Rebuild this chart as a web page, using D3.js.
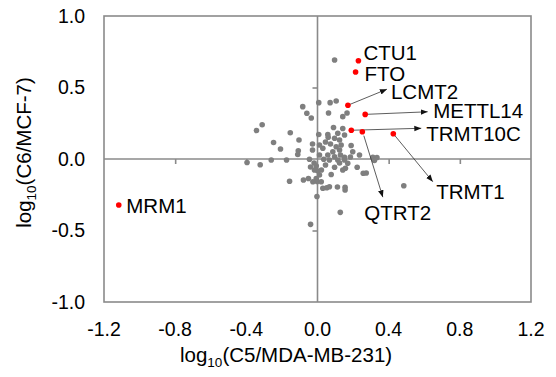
<!DOCTYPE html>
<html>
<head>
<meta charset="utf-8">
<script src="https://cdn.jsdelivr.net/npm/d3@7"></script>
<style>
  html, body { margin: 0; padding: 0; background: #fff; }
  svg { display: block; }
  text { font-family: "Liberation Sans", Arial, sans-serif; fill: #000; }
</style>
</head>
<body>
<svg id="chart" width="556" height="377"></svg>
<script>
// log10 ratio of each gene: x = C5 / MDA-MB-231, y = C6 / MCF-7
const grayX = [
  0.096, 0.007, 0.071, 0.105, -0.083, -0.060, -0.035, 0.062, 0.142, 0.166,
  -0.311, -0.343, -0.153, 0.007, 0.090, 0.142, 0.058, 0.060, 0.114, 0.096,
  0.124, -0.104, -0.247, -0.028, -0.208, -0.108, -0.111, 0.030, 0.105, 0.133,
  0.189, 0.198, 0.086, 0.058, 0.096, 0.129, 0.152, 0.011, 0.236, -0.396,
  -0.322, -0.260, -0.174, -0.045, -0.019, 0.035, 0.067, 0.114, 0.152, 0.170,
  0.311, 0.334, 0.320, 0.223, 0.157, 0.096, -0.007, 0.002, -0.017, 0.142,
  0.274, 0.257, 0.077, -0.007, -0.051, -0.079, -0.157, -0.002, 0.021, 0.030,
  0.052, 0.067, 0.112, 0.155, 0.155, -0.003, 0.128, -0.039, 0.485, -0.026,
  -0.028, 0.011, 0.045, 0.073, 0.152, 0.124, 0.045, 0.022, 0.124, 0.185,
  -0.039, 0.011
];
const grayY = [
  0.692, 0.394, 0.394, 0.406, 0.366, 0.320, 0.287, 0.322, 0.296, 0.322,
  0.240, 0.199, 0.184, 0.171, 0.220, 0.213, 0.171, 0.152, 0.180, 0.145,
  0.133, 0.133, 0.115, 0.105, 0.070, 0.058, 0.031, 0.075, 0.086, 0.098,
  0.094, 0.051, 0.051, 0.028, 0.016, 0.028, 0.012, 0.028, 0.028, -0.024,
  -0.040, -0.007, -0.007, -0.002, -0.028, -0.002, -0.007, -0.007, -0.007, -0.030,
  0.012, 0.010, -0.010, -0.058, -0.065, -0.058, -0.049, -0.084, -0.077, -0.077,
  -0.098, -0.100, -0.108, -0.136, -0.136, -0.147, -0.156, -0.157, -0.159, -0.205,
  -0.201, -0.194, -0.196, -0.198, -0.217, -0.262, -0.373, -0.457, -0.187, -0.159,
  0.063, 0.098, 0.119, 0.105, 0.168, 0.063, -0.042, -0.077, -0.028, 0.014,
  -0.056, -0.112
];

// highlighted genes
const hitNames = ["CTU1", "FTO", "LCMT2", "METTL14", "TRMT10C", "QTRT2", "TRMT1", "MRM1"];
const hitX = [0.230, 0.214, 0.171, 0.268, 0.190, 0.252, 0.426, -1.117];
const hitY = [0.687, 0.608, 0.376, 0.312, 0.201, 0.191, 0.177, -0.322];

const xTicks = [-1.2, -0.8, -0.4, 0.0, 0.4, 0.8, 1.2];
const yTicks = [-1.0, -0.5, 0.0, 0.5, 1.0];

// label placement (pixel offsets from the point): text anchor and optional arrow tip
const labelLayout = {
  CTU1:    { tx: 5,  ty: -8.5 },
  FTO:     { tx: 9,  ty: 1.5 },
  LCMT2:   { tx: 43, ty: -14, ax: 39, ay: -16 },
  METTL14: { tx: 68, ty: -3.5, ax: 62.5, ay: -2.6 },
  TRMT10C: { tx: 75, ty: 3.5, ax: 70, ay: -2 },
  QTRT2:   { tx: 2,  ty: 81, ax: 20.5, ay: 65.5, sx: 1.5, sy: 4 },
  TRMT1:   { tx: 43, ty: 58.5, ax: 39.5, ay: 48 },
  MRM1:    { tx: 7.5, ty: 0.7 }
};

const svg = d3.select("#chart");
const plotL = 104, plotR = 531, plotT = 16, plotB = 302;

const x = d3.scaleLinear().domain([-1.2, 1.2]).range([plotL, plotR]);
const y = d3.scaleLinear().domain([-1.0, 1.0]).range([plotB, plotT]);

const axisColor = "#8a8a8a";
const fmt = d => d3.format(".1f")(d).replace("\u2212", "-");

svg.append("defs").append("marker")
  .attr("id", "arrowhead")
  .attr("viewBox", "0 0 10 10")
  .attr("refX", 10).attr("refY", 5)
  .attr("markerWidth", 7).attr("markerHeight", 7)
  .attr("markerUnits", "userSpaceOnUse")
  .attr("orient", "auto")
  .append("path").attr("d", "M0,1 L10,5 L0,9 Z").attr("fill", "#111");

// frame
svg.append("rect")
  .attr("x", plotL).attr("y", plotT)
  .attr("width", plotR - plotL).attr("height", plotB - plotT)
  .attr("fill", "none").attr("stroke", axisColor).attr("stroke-width", 1.6);

// zero lines with ticks
const xAxis = d3.axisBottom(x).tickValues(xTicks.filter(v => Math.abs(v) < 1.1 && v !== 0))
  .tickSize(5).tickFormat("");
const gx = svg.append("g").attr("transform", `translate(0,${y(0)})`).call(xAxis);
gx.select(".domain").attr("d", `M${plotL},0H${plotR}`);
gx.selectAll("line, path").attr("stroke", axisColor).attr("stroke-width", 1.6);

const yAxis = d3.axisLeft(y).tickValues(yTicks.filter(v => Math.abs(v) < 0.9 && v !== 0))
  .tickSize(5).tickFormat("");
const gy = svg.append("g").attr("transform", `translate(${x(0)},0)`).call(yAxis);
gy.select(".domain").attr("d", `M0,${plotT}V${plotB}`);
gy.selectAll("line, path").attr("stroke", axisColor).attr("stroke-width", 1.6);

// tick labels on the frame
svg.append("g").selectAll("text").data(xTicks).join("text")
  .attr("x", d => x(d)).attr("y", 336)
  .attr("text-anchor", "middle").attr("font-size", 19.5)
  .text(fmt);

svg.append("g").selectAll("text").data(yTicks).join("text")
  .attr("x", 85).attr("y", d => y(d) + 6.8)
  .attr("text-anchor", "end").attr("font-size", 19.5)
  .text(fmt);

// axis titles
const xt = svg.append("text").attr("x", 180).attr("y", 362).attr("font-size", 20.5);
xt.append("tspan").text("log");
xt.append("tspan").attr("font-size", 13.5).attr("dy", 5).text("10");
xt.append("tspan").attr("dy", -5).text("(C5/MDA-MB-231)");

const yt = svg.append("text")
  .attr("transform", `translate(31,${152.5}) rotate(-90)`)
  .attr("text-anchor", "middle").attr("font-size", 20.5);
yt.append("tspan").text("log");
yt.append("tspan").attr("font-size", 13.5).attr("dy", 5).text("10");
yt.append("tspan").attr("dy", -5).text("(C6/MCF-7)");

// background genes
const gray = grayX.map((v, i) => ({ x: v, y: grayY[i] }));
svg.append("g").selectAll("circle").data(gray).join("circle")
  .attr("cx", d => x(d.x)).attr("cy", d => y(d.y)).attr("r", 2.8)
  .attr("fill", "#7f7f7f");

// highlighted genes
const hits = hitNames.map((n, i) => ({ name: n, x: hitX[i], y: hitY[i], l: labelLayout[n] }));

svg.append("g").selectAll("line").data(hits.filter(d => d.l.ax !== undefined)).join("line")
  .attr("x1", d => x(d.x) + (d.l.sx || 0)).attr("y1", d => y(d.y) + (d.l.sy || 0))
  .attr("x2", d => x(d.x) + d.l.ax).attr("y2", d => y(d.y) + d.l.ay)
  .attr("stroke", "#333").attr("stroke-width", 0.8)
  .attr("marker-end", "url(#arrowhead)");

svg.append("g").selectAll("circle").data(hits).join("circle")
  .attr("cx", d => x(d.x)).attr("cy", d => y(d.y)).attr("r", 2.8)
  .attr("fill", "#ff0000");

svg.append("g").selectAll("text").data(hits).join("text")
  .attr("x", d => x(d.x) + d.l.tx).attr("y", d => y(d.y) + d.l.ty + 7.3)
  .attr("font-size", 20.5)
  .text(d => d.name);
</script>
</body>
</html>
